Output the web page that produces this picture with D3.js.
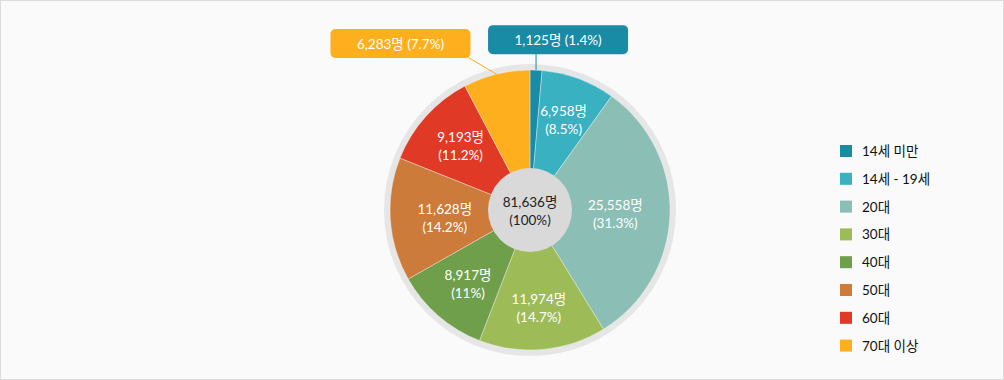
<!DOCTYPE html>
<html><head><meta charset="utf-8">
<script src="https://cdn.jsdelivr.net/npm/d3@7"></script>
<style>
html,body{margin:0;padding:0;background:#fff;}
svg{display:block;font-family:"Lato","Noto Sans CJK KR",sans-serif;}
</style></head><body>
<svg id="c" width="1004" height="380"></svg>
<script>
const categories = ["14세 미만","14세 - 19세","20대","30대","40대","50대","60대","70대 이상"];
const values = [1125, 6958, 25558, 11974, 8917, 11628, 9193, 6283];
const pctLabels = ["1.4%","8.5%","31.3%","14.7%","11%","14.2%","11.2%","7.7%"];
const colors = ["#1a8ba5","#39b1c1","#8bbeb4","#9dbb57","#6f9f4b","#cc7b3b","#e03a27","#fdaf1d"];
const totalLabel = "81,636명";
const totalPct = "(100%)";

const svg = d3.select("#c");
const W = 1004, H = 380;
svg.append("rect").attr("x",0.5).attr("y",0.5).attr("width",W-1).attr("height",H-1)
  .attr("fill","#fafafa").attr("stroke","#dcdcdc");

const cx = 530, cy = 210, R = 140;
const g = svg.append("g").attr("transform",`translate(${cx},${cy})`);
g.append("circle").attr("r",R+6).attr("fill","#e6e6e6");

const data = categories.map((c,i)=>({cat:c,value:values[i],pct:pctLabels[i],color:colors[i],i}));
const pie = d3.pie().value(d=>d.value).sort(null);
const arcs = pie(data);
const arc = d3.arc().innerRadius(0).outerRadius(R);
g.selectAll("path.s").data(arcs).enter().append("path").attr("class","s")
  .attr("d",arc).attr("fill",d=>d.data.color).attr("stroke","rgba(255,255,255,0.35)").attr("stroke-width",1);

const fmt = d3.format(",");
const labelArc = d3.arc().innerRadius(97).outerRadius(97);
const total = d3.sum(values);
const inside = arcs.filter(d=>d.data.value/total > 0.08);
inside.forEach(d=>{
  const p = labelArc.centroid(d);
  // pull near-horizontal labels slightly inward so wide text stays inside slice
  const x = p[0] * (1 - 0.12*Math.abs(Math.sin((d.startAngle+d.endAngle)/2))**4);
  g.append("text").attr("x",x).attr("y",p[1]-3).attr("text-anchor","middle")
    .attr("fill","#fff").attr("font-size",13.5).text(fmt(d.data.value)+"명");
  g.append("text").attr("x",x).attr("y",p[1]+15).attr("text-anchor","middle")
    .attr("fill","#fff").attr("font-size",13.5).text("("+d.data.pct+")");
});

// center
g.append("circle").attr("r",42).attr("fill","#d9d9d9");
g.append("text").attr("x",0).attr("y",-3).attr("text-anchor","middle").attr("fill","#222")
  .attr("font-size",13.5).text(totalLabel);
g.append("text").attr("x",0).attr("y",15).attr("text-anchor","middle").attr("fill","#222")
  .attr("font-size",13.5).text(totalPct);

// outside callouts
const outside = arcs.filter(d=>d.data.value/total <= 0.08);
const anchorArc = d3.arc().innerRadius(R).outerRadius(R);
outside.forEach(d=>{
  const p = anchorArc.centroid(d);
  const mid = (d.startAngle+d.endAngle)/2;
  const right = mid < Math.PI;
  const bw = 140, bh = 29;
  const top = p[1]-45;
  let bx, lx;
  if(right){ bx = p[0]-48; lx = p[0]; }
  else { bx = p[0]-26-bw; lx = p[0]-29; }
  g.append("line").attr("x1",p[0]).attr("y1",p[1]).attr("x2",lx).attr("y2",top+bh-1)
    .attr("stroke",d.data.color).attr("stroke-width",1);
  g.append("rect").attr("x",bx).attr("y",top).attr("width",bw).attr("height",bh)
    .attr("rx",5).attr("fill",d.data.color);
  g.append("text").attr("x",bx+bw/2).attr("y",top+bh/2+5).attr("text-anchor","middle")
    .attr("fill","#fff").attr("font-size",13.5).text(fmt(d.data.value)+"명 ("+d.data.pct+")");
});

// legend
const lg = svg.append("g").attr("transform","translate(840,151)");
const li = lg.selectAll("g").data(data).enter().append("g")
  .attr("transform",(d,i)=>`translate(0,${i*27.8})`);
li.append("rect").attr("x",0).attr("y",-6).attr("width",12).attr("height",12).attr("fill",d=>d.color);
li.append("text").attr("x",22).attr("y",5).attr("font-size",13.5).attr("fill","#111")
  .text(d=>d.cat);
</script>
</body></html>
